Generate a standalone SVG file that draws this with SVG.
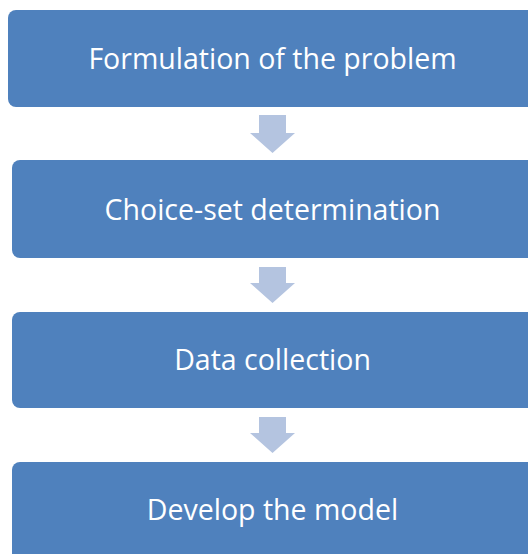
<svg xmlns="http://www.w3.org/2000/svg" width="528" height="554" viewBox="0 0 528 554">
<style>
.box{fill:#4f81bd;}
.lbl{font-family:"Open Sans","Noto Sans","Liberation Sans",sans-serif;font-size:28.5px;fill:#ffffff;text-anchor:middle;}
.arr{fill:#b4c4e0;}
</style>
<rect width="528" height="554" fill="#ffffff"/>
<g id="node1"><rect class="box" x="8" y="10" width="530" height="97" rx="8"/><text class="lbl" x="272.5" y="68.5">Formulation of the problem</text></g>
<g id="node2"><rect class="box" x="12" y="160" width="526" height="98" rx="8"/><text class="lbl" x="272.5" y="219.5">Choice-set determination</text></g>
<g id="node3"><rect class="box" x="12" y="312" width="526" height="96" rx="8"/><text class="lbl" x="272.5" y="370">Data collection</text></g>
<g id="node4"><rect class="box" x="12" y="462" width="526" height="110" rx="8"/><text class="lbl" x="272.5" y="520">Develop the model</text></g>
<g id="connectors">
<polygon class="arr" points="259,115 286,115 286,133 295,133 272.5,153 250,133 259,133"/>
<polygon class="arr" points="259,267 286,267 286,283 295,283 272.5,303 250,283 259,283"/>
<polygon class="arr" points="259,417 286,417 286,433 295,433 272.5,453 250,433 259,433"/>
</g>
</svg>
